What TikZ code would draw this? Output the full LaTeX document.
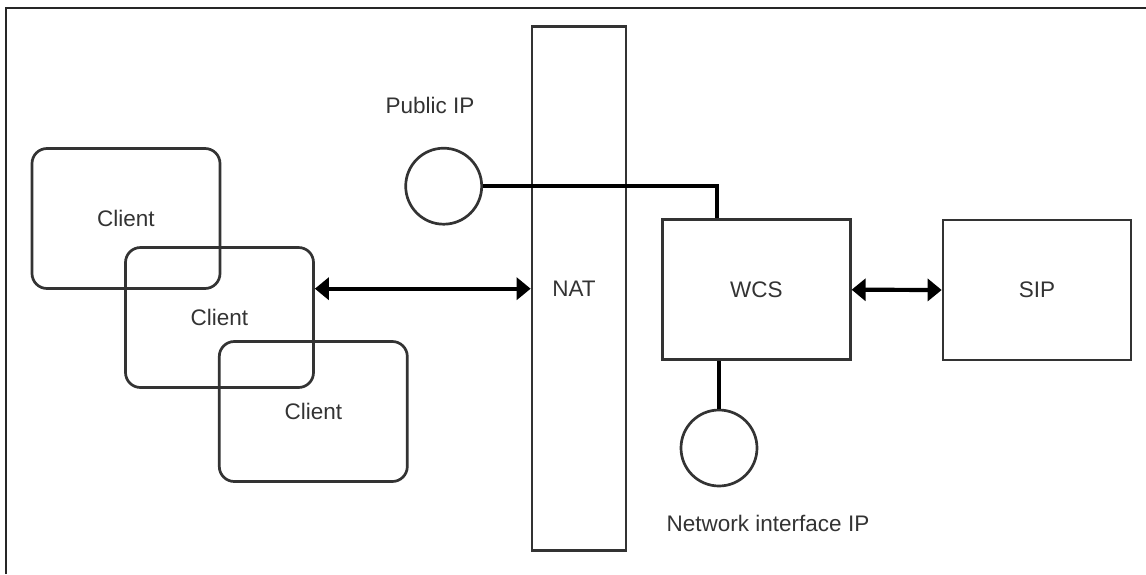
\documentclass[tikz,border=0pt]{standalone}
\usepackage{fontspec}
\setmainfont{Liberation Sans}
\usetikzlibrary{arrows.meta,calc}

\definecolor{edge}{HTML}{333333}
\definecolor{ink}{HTML}{333333}

\tikzset{
  x=1pt, y=-1pt,
  every node/.style={font=\fontsize{22.5}{27}\selectfont, text=ink},
  box/.style={draw=edge, line width=2.7pt, rectangle, inner sep=0pt,
              minimum width=188pt, minimum height=140pt},
  clientbox/.style={box, rounded corners=15pt},
  ipnode/.style={draw=edge, line width=2.7pt, circle, inner sep=0pt, minimum size=76pt},
  link/.style={draw=black, line width=3.8pt},
  biarrow/.style={draw=black, line width=4.2pt,
                  {Triangle[length=14pt,width=22pt]}-{Triangle[length=14pt,width=22pt]}},
  caption/.style={inner sep=0pt}
}

\begin{document}
\begin{tikzpicture}
  \useasboundingbox (0,0) rectangle (1146,574);

  % frame (top and left edges)
  \draw[line width=1.6pt, black!85] (6,574) -- (6,8) -- (1146,8);

  % clients
  \node[clientbox] (client1) at (126,218.5) {Client};
  \node[clientbox] (client2) at (219.5,317.5) {Client};
  \node[clientbox] (client3) at (313.3,411.5) {Client};

  % NAT (label sits a little left of centre)
  \node[box, minimum width=94pt, minimum height=524pt] (nat) at (579,288.7) {NAT\hspace*{10pt}};

  % servers
  \node[box] (wcs) at (756.3,289.7) {WCS};
  \node[box] (sip) at (1037,290) {SIP};

  % addresses
  \node[ipnode] (pub) at (443.7,186.2) {};
  \node[caption] (publabel) at (430,105) {Public IP};
  \node[ipnode] (netif) at (719,448) {};
  \node[caption] (netlabel) at (768,523) {Network interface IP};

  % connectors
  \coordinate (wcsin) at ($(wcs.north west)!0.295!(wcs.north east)$);
  \draw[link] (pub.east) -| (wcsin);
  \draw[link] (netif.north) -- (netif.north |- wcs.south);
  \draw[biarrow] (client2.east |- nat.west) -- (nat.west);
  \draw[biarrow] (wcs.east) -- (sip.west);
\end{tikzpicture}
\end{document}
